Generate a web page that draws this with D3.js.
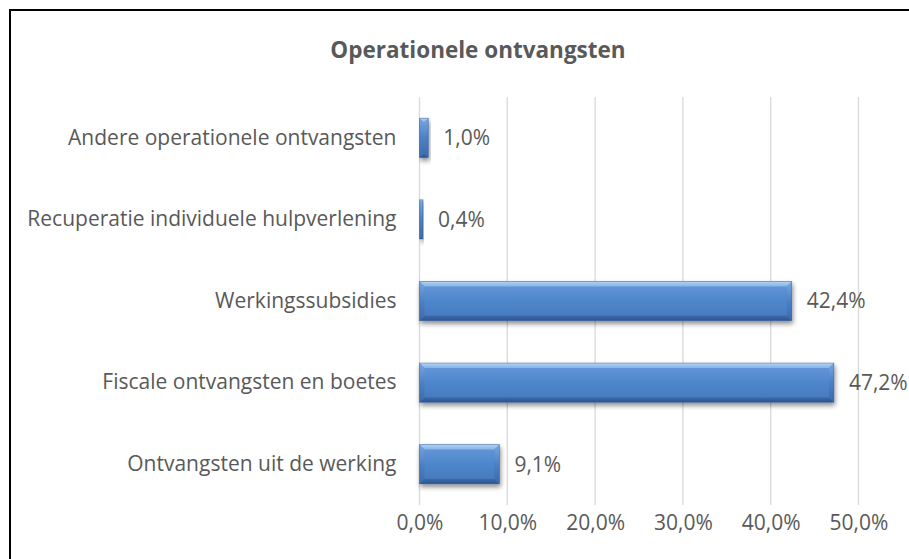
<!DOCTYPE html>
<html><head><meta charset="utf-8">
<script src="https://cdn.jsdelivr.net/npm/d3@7"></script>
<style>html,body{margin:0;padding:0;background:#fff;}</style>
</head><body>
<svg id="chart" width="909" height="559"></svg>
<script>
const categories = ["Andere operationele ontvangsten","Recuperatie individuele hulpverlening","Werkingssubsidies","Fiscale ontvangsten en boetes","Ontvangsten uit de werking"];
const values = [1.0, 0.4, 42.4, 47.2, 9.1];
const tickValues = [0, 10, 20, 30, 40, 50];
const title = "Operationele ontvangsten";

const svg = d3.select("#chart");
const font = "'Open Sans', Lato, sans-serif";
const textColor = "#595959";

svg.append("rect").attr("width",909).attr("height",559).attr("fill","#fff");
// frame
svg.append("rect").attr("x",10).attr("y",10).attr("width",1000).attr("height",700)
  .attr("fill","none").attr("stroke","#000").attr("stroke-width",2);

const defs = svg.append("defs");
const sh = defs.append("filter").attr("id","shadow").attr("x","-10%").attr("y","-30%").attr("width","130%").attr("height","180%");
sh.append("feGaussianBlur").attr("in","SourceAlpha").attr("stdDeviation",2.5);
sh.append("feOffset").attr("dx",1).attr("dy",3).attr("result","ob");
sh.append("feComponentTransfer").append("feFuncA").attr("type","linear").attr("slope",0.45);
const m = sh.append("feMerge"); m.append("feMergeNode"); m.append("feMergeNode").attr("in","SourceGraphic");

function grad(id, stops){
  const g = defs.append("linearGradient").attr("id",id).attr("x1",0).attr("y1",0).attr("x2",0).attr("y2",1);
  stops.forEach(s=>g.append("stop").attr("offset",s[0]).attr("stop-color",s[1]));
}
grad("gMain", [[0,"#6699db"],[0.5,"#4f86cb"],[1,"#4677bb"]]);
grad("gTop", [[0,"#b3d3f5"],[1,"#86b3e8"]]);
grad("gBot", [[0,"#3a6cad"],[1,"#2b5590"]]);
grad("gSide", [[0,"#7aa7e0"],[0.5,"#4c80c4"],[1,"#3a6aa8"]]);

const x = d3.scaleLinear().domain([0,50]).range([419.5,858.5]);
const y = d3.scaleBand().domain(categories).range([97,505]).paddingInner(0.52).paddingOuter(0.26);

// gridlines
svg.append("g").selectAll("line").data(tickValues).join("line")
  .attr("x1",d=>x(d)).attr("x2",d=>x(d)).attr("y1",97).attr("y2",505)
  .attr("stroke","#d9d9d9").attr("stroke-width",1.3);

// x axis labels via d3 axis
const xAxis = d3.axisBottom(x).tickValues(tickValues).tickSize(0).tickPadding(0)
  .tickFormat(d => d3.format(".1f")(d).replace(".",",") + "%");
const gx = svg.append("g").attr("transform","translate(0,515)").call(xAxis);
gx.select(".domain").remove();
gx.selectAll("text").attr("font-family",font).attr("font-size",21).attr("fill",textColor).attr("dy","0.71em");

// y axis labels
const yAxis = d3.axisLeft(y).tickSize(0).tickPadding(23);
const gy = svg.append("g").attr("transform",`translate(${x(0)},0)`).call(yAxis);
gy.select(".domain").remove();
gy.selectAll("text").attr("font-family",font).attr("font-size",21).attr("fill",textColor);

// bars with bevel
const data = categories.map((c,i)=>({c, v: values[i]}));
const bars = svg.append("g").selectAll("g").data(data).join("g").attr("filter","url(#shadow)");
bars.each(function(d){
  const g = d3.select(this);
  const x0 = x(0), x1 = x(d.v), y0 = y(d.c), y1 = y0 + y.bandwidth();
  const b = Math.min(5, (x1-x0)/2);
  g.append("rect").attr("x",x0).attr("y",y0).attr("width",x1-x0).attr("height",y1-y0).attr("fill","url(#gMain)");
  g.append("polygon").attr("points",`${x0},${y0} ${x1},${y0} ${x1-b},${y0+b} ${x0+b},${y0+b}`).attr("fill","url(#gTop)");
  g.append("polygon").attr("points",`${x0},${y1} ${x1},${y1} ${x1-b},${y1-b} ${x0+b},${y1-b}`).attr("fill","url(#gBot)");
  g.append("polygon").attr("points",`${x1},${y0} ${x1},${y1} ${x1-b},${y1-b} ${x1-b},${y0+b}`).attr("fill","url(#gSide)");
  g.append("polygon").attr("points",`${x0},${y0} ${x0},${y1} ${x0+b},${y1-b} ${x0+b},${y0+b}`).attr("fill","url(#gSide)").attr("opacity",0.9);
  g.append("rect").attr("x",x0).attr("y",y0).attr("width",x1-x0).attr("height",y1-y0).attr("fill","none").attr("stroke","#2f5a92").attr("stroke-opacity",0.5).attr("stroke-width",0.8);
});

// value labels
svg.append("g").selectAll("text").data(data).join("text")
  .attr("x",d=>x(d.v)+15).attr("y",d=>y(d.c)+y.bandwidth()/2).attr("dy","0.35em")
  .attr("font-family",font).attr("font-size",21).attr("fill",textColor)
  .text(d=>d3.format(".1f")(d.v).replace(".",",")+"%");

// title
svg.append("text").attr("x",478).attr("y",58).attr("text-anchor","middle")
  .attr("font-family",font).attr("font-weight","bold").attr("font-size",22.5).attr("fill",textColor)
  .text(title);
</script>
</body></html>
